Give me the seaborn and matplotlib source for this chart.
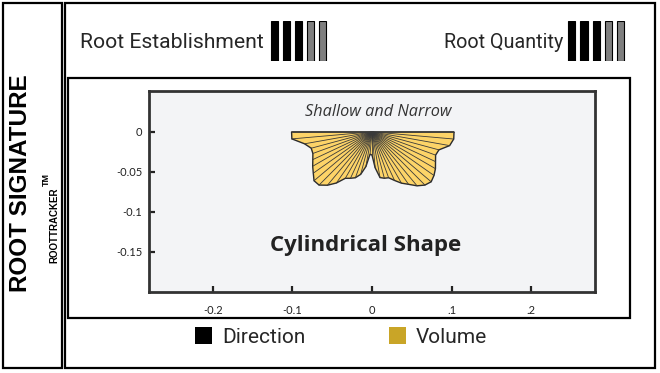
"""Root signature card: fan-shaped root volume profile."""

import matplotlib

matplotlib.use("Agg")
import matplotlib.pyplot as plt
import numpy as np
import pandas as pd
import seaborn as sns
from matplotlib.patches import Patch, Rectangle

W, H = 660, 373

# ray directions (degrees below the +x axis) and reach of each ray (m)
ray_angle_deg = [0, 5, 10, 15, 20, 25, 30, 35, 40, 45, 50, 55, 60, 65, 70, 75, 80, 85, 90,
                 95, 100, 105, 110, 115, 120, 125, 130, 135, 140, 145, 150, 155, 160, 165,
                 170, 175, 180]
ray_length = [0.103, 0.103, 0.099, 0.087, 0.085, 0.088, 0.092, 0.095, 0.097, 0.094,
              0.088, 0.080, 0.074, 0.067, 0.061, 0.060, 0.058, 0.045, 0.029, 0.028,
              0.044, 0.055, 0.061, 0.064, 0.067, 0.078, 0.087, 0.094, 0.095, 0.090,
              0.086, 0.082, 0.079, 0.079, 0.086, 0.101, 0.101]

x_ticks = [-0.2, -0.1, 0, 0.1, 0.2]
x_tick_labels = ["-0.2", "-0.1", "0", ".1", ".2"]
y_ticks = [0, -0.05, -0.1, -0.15]
y_tick_labels = ["0", "-0.05", "-0.1", "-0.15"]

rating_names = ["Root Establishment", "Root Quantity"]
rating_scores = [3, 3]
rating_max = 5

legend_labels = ["Direction", "Volume"]
legend_colors = ["#000000", "#C9A527"]

shape_name = "Cylindrical Shape"
shape_note = "Shallow and Narrow"


def px_box(fig, x0, y0, x1, y1, lw=1.6):
    fig.add_artist(Rectangle((x0 / W, 1 - y1 / H), (x1 - x0) / W, (y1 - y0) / H,
                             transform=fig.transFigure, fill=False, ec="black", lw=lw))


def px_axes(fig, x0, y0, x1, y1):
    return fig.add_axes([x0 / W, 1 - y1 / H, (x1 - x0) / W, (y1 - y0) / H])


sns.set_theme(style="white")
plt.rcParams["font.family"] = ["Roboto", "DejaVu Sans"]

fig = plt.figure(figsize=(W / 100, H / 100), dpi=100)
fig.patch.set_facecolor("white")

# frames
px_box(fig, 3, 3, 62, 368)
px_box(fig, 65, 3, 655, 368)
px_box(fig, 68, 78, 630, 318)

# side title
fig.text(21 / W, 1 - 183 / H, "ROOT SIGNATURE", rotation=90, ha="center", va="center",
         family="Liberation Sans", weight="bold", fontsize=17.5, color="black")
fig.text(54 / W, 1 - 225 / H, "ROOTTRACKER", rotation=90, ha="center", va="center",
         family="Liberation Sans", weight="bold", fontsize=7, color="black")
fig.text(46 / W, 1 - 179 / H, "TM", rotation=90, ha="center", va="center",
         family="Liberation Sans", weight="bold", fontsize=6.5, color="black")

# ratings
fig.text(80 / W, 1 - 42 / H, rating_names[0], ha="left", va="center", fontsize=15.2)
fig.text(563 / W, 1 - 42 / H, rating_names[1], ha="right", va="center", fontsize=14.2)
for (x0, x1), score in zip([(268, 329), (565.5, 627)], rating_scores):
    rax = px_axes(fig, x0, 21, x1, 61)
    colors = ["black" if i < score else "#7f7f7f" for i in range(rating_max)]
    rax.bar(range(rating_max), [1] * rating_max, width=0.58, color=colors,
            edgecolor="black", linewidth=0.8)
    rax.set_xlim(-0.5, rating_max - 0.5)
    rax.set_ylim(0, 1)
    rax.axis("off")

# main profile
ax = px_axes(fig, 149, 91, 595, 292)
ax.set_facecolor("#F3F4F6")

theta = np.deg2rad(ray_angle_deg)
tips = pd.DataFrame({
    "x": np.asarray(ray_length) * np.cos(theta),
    "y": -np.asarray(ray_length) * np.sin(theta),
})
ax.fill(tips["x"], tips["y"], facecolor="#FDD468", edgecolor="#2b2b2b", lw=1.0, zorder=2)

rays = pd.concat([
    pd.DataFrame({"x": [0.0] * len(tips), "y": [0.0] * len(tips), "ray": range(len(tips))}),
    tips.assign(ray=range(len(tips))),
]).sort_values("ray", kind="stable")
sns.lineplot(data=rays, x="x", y="y", units="ray", estimator=None, sort=False,
             color="#3a3a3a", lw=0.6, ax=ax, legend=False, zorder=3)

ax.set_xlim(-0.28, 0.28)
ax.set_ylim(-0.2, 0.051)
ax.set_xticks(x_ticks, x_tick_labels)
ax.set_yticks(y_ticks, y_tick_labels)
ax.set_xlabel("")
ax.set_ylabel("")
for side in ["top", "right", "left", "bottom"]:
    ax.spines[side].set_visible(True)
    ax.spines[side].set_color("#333333")
    ax.spines[side].set_linewidth(2)
ax.tick_params(axis="both", direction="in", length=4, width=1.6, color="#222222",
               labelsize=8, labelcolor="#222222", bottom=True, left=True)
ax.tick_params(axis="x", pad=9)
ax.tick_params(axis="y", pad=5)
for lab in ax.get_xticklabels() + ax.get_yticklabels():
    lab.set_family(["Lato", "DejaVu Sans"])

ax.text(0.008, 0.025, shape_note, ha="center", va="center", style="italic",
        fontsize=11.7, color="#333333", family=["Open Sans", "DejaVu Sans"])
ax.text(-0.008, -0.1425, shape_name, ha="center", va="center", weight="bold",
        fontsize=16, color="#222222", family=["Open Sans", "DejaVu Sans"])

# legend
handles = [Patch(facecolor=c, edgecolor="none") for c in legend_colors]
fig.legend(handles, legend_labels, loc="center", bbox_to_anchor=(341 / W, 1 - 337 / H),
           ncol=2, frameon=False, fontsize=15, handlelength=0.82, handleheight=0.82,
           handletextpad=0.5, columnspacing=4.0, borderpad=0)

fig.savefig("out.png", dpi=100)
plt.close(fig)
